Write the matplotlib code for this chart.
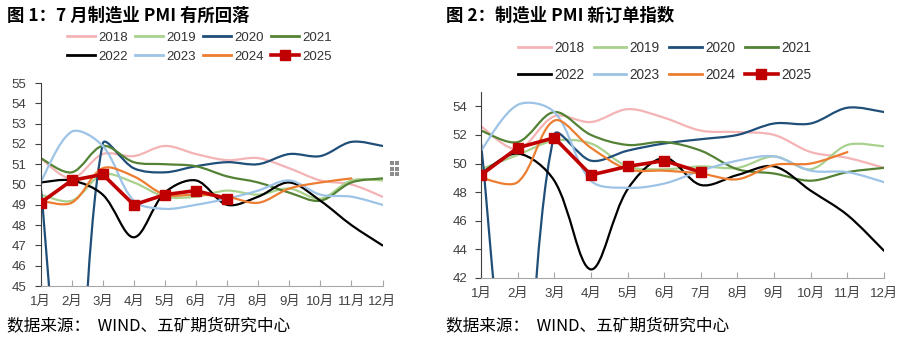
import numpy as np
import matplotlib
matplotlib.use('Agg')
import matplotlib.pyplot as plt
from matplotlib.path import Path
from matplotlib.patches import PathPatch
from matplotlib.lines import Line2D

plt.rcParams['font.family'] = ['Liberation Sans', 'Noto Sans CJK SC', 'DejaVu Sans']

months = ['1月', '2月', '3月', '4月', '5月', '6月', '7月', '8月', '9月', '10月', '11月', '12月']
years = ['2018', '2019', '2020', '2021', '2022', '2023', '2024', '2025']
colors = ['#F4B3B5', '#A9D18E', '#1F4E79', '#548235', '#000000', '#9DC3E6', '#ED7D31', '#C00000']

# 制造业 PMI
pmi_2018 = [51.3, 50.3, 51.5, 51.4, 51.9, 51.5, 51.2, 51.3, 50.8, 50.2, 50.0, 49.4]
pmi_2019 = [49.5, 49.2, 50.5, 50.1, 49.4, 49.4, 49.7, 49.5, 49.8, 49.3, 50.2, 50.2]
pmi_2020 = [50.0, 35.7, 52.0, 50.8, 50.6, 50.9, 51.1, 51.0, 51.5, 51.4, 52.1, 51.9]
pmi_2021 = [51.3, 50.6, 51.9, 51.1, 51.0, 50.9, 50.4, 50.1, 49.6, 49.2, 50.1, 50.3]
pmi_2022 = [50.1, 50.2, 49.5, 47.4, 49.6, 50.2, 49.0, 49.4, 50.1, 49.2, 48.0, 47.0]
pmi_2023 = [50.1, 52.6, 51.9, 49.2, 48.8, 49.0, 49.3, 49.7, 50.2, 49.5, 49.4, 49.0]
pmi_2024 = [49.2, 49.1, 50.8, 50.4, 49.5, 49.5, 49.4, 49.1, 49.8, 50.1, 50.3]
pmi_2025 = [49.1, 50.2, 50.5, 49.0, 49.5, 49.7, 49.3]

# 新订单指数
no_2018 = [52.6, 51.0, 53.3, 52.9, 53.8, 53.2, 52.3, 52.2, 52.0, 50.8, 50.4, 49.7]
no_2019 = [49.6, 50.6, 51.6, 51.4, 49.8, 49.6, 49.8, 49.7, 50.5, 49.6, 51.3, 51.2]
no_2020 = [51.4, 29.3, 52.0, 50.2, 50.9, 51.4, 51.7, 52.0, 52.8, 52.8, 53.9, 53.6]
no_2021 = [52.3, 51.5, 53.6, 52.0, 51.3, 51.5, 50.9, 49.6, 49.3, 48.8, 49.4, 49.7]
no_2022 = [49.3, 50.7, 48.8, 42.6, 48.2, 50.4, 48.5, 49.2, 49.8, 48.1, 46.4, 43.9]
no_2023 = [50.9, 54.1, 53.6, 48.8, 48.3, 48.6, 49.5, 50.2, 50.5, 49.5, 49.4, 48.7]
no_2024 = [49.0, 48.7, 53.0, 51.1, 49.6, 49.5, 49.3, 48.9, 49.9, 50.0, 50.8]
no_2025 = [49.2, 51.1, 51.8, 49.2, 49.8, 50.2, 49.4]

pmi_series = [pmi_2018, pmi_2019, pmi_2020, pmi_2021, pmi_2022, pmi_2023, pmi_2024, pmi_2025]
no_series = [no_2018, no_2019, no_2020, no_2021, no_2022, no_2023, no_2024, no_2025]


def smooth_line(ax, values, color):
    # Excel style smoothed line: Bezier tangents weighted by on-screen segment lengths
    pts = np.column_stack([np.arange(len(values)), np.array(values, dtype=float)])
    px = ax.transData.transform(pts)
    n = len(pts)
    seg = np.hypot(*np.diff(px, axis=0).T)
    c_out, c_in = [], []
    for i in range(n):
        if i == 0:
            c_out.append(pts[0] + (pts[1] - pts[0]) / 6)
            c_in.append(pts[0])
        elif i == n - 1:
            c_in.append(pts[i] - (pts[i] - pts[i - 1]) / 6)
            c_out.append(pts[i])
        else:
            tan = pts[i + 1] - pts[i - 1]
            dp, dn = seg[i - 1], seg[i]
            c_in.append(pts[i] - tan * dp / (dp + dn) / 3)
            c_out.append(pts[i] + tan * dn / (dp + dn) / 3)
    verts = [pts[0]]
    codes = [Path.MOVETO]
    for i in range(n - 1):
        verts += [c_out[i], c_in[i + 1], pts[i + 1]]
        codes += [Path.CURVE4] * 3
    patch = PathPatch(Path(verts, codes), facecolor='none', edgecolor=color,
                      lw=1.6, capstyle='round', joinstyle='round')
    ax.add_patch(patch)


def draw_panel(ax, series, ylim, yticks):
    ax.set_xlim(0, 11)
    ax.set_ylim(*ylim)
    for vals, c in zip(series[:-1], colors[:-1]):
        smooth_line(ax, vals, c)
    last = series[-1]
    ax.plot(range(len(last)), last, color=colors[-1], lw=2.6, marker='s',
            markersize=7, zorder=5)
    ax.set_yticks(yticks)
    ax.set_xticks(range(12))
    ax.set_xticklabels(months)
    for s in ['top', 'right']:
        ax.spines[s].set_visible(False)
    ax.spines['left'].set_color('#404040')
    ax.spines['bottom'].set_color('#A6A6A6')
    ax.tick_params(axis='y', direction='out', length=4, colors='#404040',
                   labelsize=9.5, labelcolor='#404040', pad=6)
    ax.tick_params(axis='x', direction='in', length=4, colors='#A6A6A6',
                   labelsize=9.5, labelcolor='#404040', pad=7)


fig = plt.figure(figsize=(9.03, 3.37), dpi=100)

ax1 = fig.add_axes([0.0449, 0.1513, 0.3787, 0.6024])
draw_panel(ax1, pmi_series, (45, 55), range(45, 56))

ax2 = fig.add_axes([0.5327, 0.1751, 0.4463, 0.5519])
draw_panel(ax2, no_series, (42, 55), range(42, 55, 2))

handles = []
for y, c in zip(years, colors):
    if y == '2025':
        handles.append(Line2D([], [], color=c, lw=2.6, marker='s', markersize=7))
    else:
        handles.append(Line2D([], [], color=c, lw=2))

# legend fills by column, so reorder to read row by row
order = [0, 4, 1, 5, 2, 6, 3, 7]
leg_h = [handles[i] for i in order]
leg_l = [years[i] for i in order]

fig.legend(leg_h, leg_l, loc='center', bbox_to_anchor=(0.221, 0.86), ncol=4,
           frameon=False, fontsize=9.5, handlelength=2.1, handletextpad=0.25,
           columnspacing=0.55, labelspacing=0.55, labelcolor='#333333')
fig.legend(leg_h, leg_l, loc='center', bbox_to_anchor=(0.736, 0.817), ncol=4,
           frameon=False, fontsize=9.8, handlelength=2.4, handletextpad=0.25,
           columnspacing=0.7, labelspacing=0.95, labelcolor='#333333')

fig.text(0.008, 0.955, '图 1：7 月制造业 PMI 有所回落', fontsize=12.5, fontweight='bold',
         va='center', ha='left', family=['Noto Sans CJK SC', 'DejaVu Sans'])
fig.text(0.494, 0.955, '图 2：制造业 PMI 新订单指数', fontsize=12.5, fontweight='bold',
         va='center', ha='left', family=['Noto Sans CJK SC', 'DejaVu Sans'])

for sx in [0.008, 0.494]:
    fig.text(sx, 0.033, '数据来源：  WIND、五矿期货研究中心', fontsize=12,
             va='center', ha='left', family=['Noto Sans CJK SC', 'DejaVu Sans'])

# small grip handle next to the first chart
gx = [392 / 903, 397.5 / 903] * 3
gy = [1 - 163 / 337] * 2 + [1 - 168.5 / 337] * 2 + [1 - 174 / 337] * 2
fig.add_artist(Line2D(gx, gy, transform=fig.transFigure, linestyle='none',
                      marker='s', markersize=2.2, markeredgewidth=0, color='#8C8C8C'))

fig.savefig('out.png', dpi=100)
